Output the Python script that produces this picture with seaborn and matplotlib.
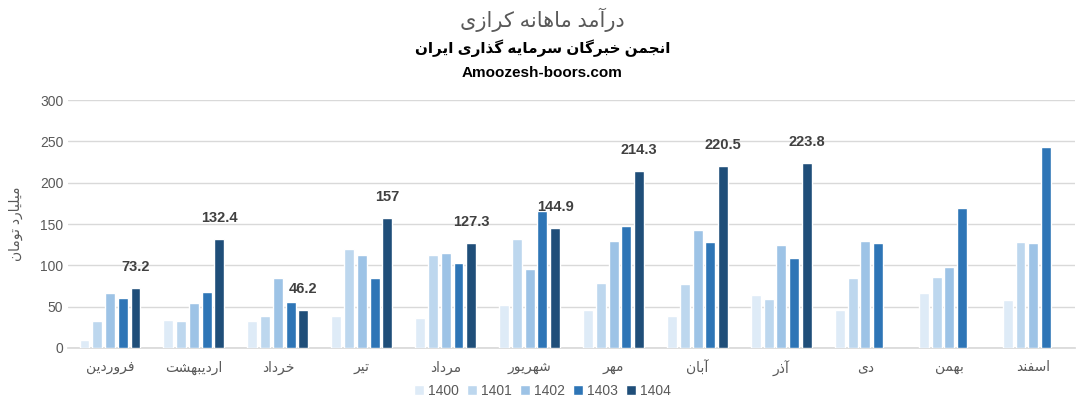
import numpy as np
import pandas as pd
import matplotlib
matplotlib.use("Agg")
import matplotlib.pyplot as plt
import seaborn as sns


months = ["فروردین", "اردیبهشت", "خرداد", "تیر", "مرداد", "شهریور",
          "مهر", "آبان", "آذر", "دی", "بهمن", "اسفند"]
years = ["1400", "1401", "1402", "1403", "1404"]

rev_1400 = [10, 34, 33, 39, 36, 52, 46, 39, 64, 46, 67, 58]
rev_1401 = [33, 33, 39, 120, 113, 132, 79, 78, 59, 85, 86, 128]
rev_1402 = [67, 55, 85, 113, 115, 96, 130, 143, 125, 130, 98, 127]
rev_1403 = [60, 68, 56, 85, 103, 166, 148, 128, 109, 127, 170, 243]
rev_1404 = [73.2, 132.4, 46.2, 157, 127.3, 144.9, 214.3, 220.5, 223.8,
            np.nan, np.nan, np.nan]

title = "درآمد ماهانه کرازی"
subtitle = "انجمن خبرگان سرمایه گذاری ایران"
site = "Amoozesh-boors.com"
ylabel = "میلیارد تومان"

colors = ["#DEEBF7", "#BDD7EE", "#9DC3E6", "#2E75B6", "#1F4E79"]

# presentation forms: isolated, final, initial, medial (None = right-joining only)
FORMS = {
    "ا": ("\uFE8D", "\uFE8E", None, None),
    "آ": ("\uFE81", "\uFE82", None, None),
    "د": ("\uFEA9", "\uFEAA", None, None),
    "ذ": ("\uFEAB", "\uFEAC", None, None),
    "ر": ("\uFEAD", "\uFEAE", None, None),
    "ز": ("\uFEAF", "\uFEB0", None, None),
    "و": ("\uFEED", "\uFEEE", None, None),
    "ب": ("\uFE8F", "\uFE90", "\uFE91", "\uFE92"),
    "پ": ("\uFB56", "\uFB57", "\uFB58", "\uFB59"),
    "ت": ("\uFE95", "\uFE96", "\uFE97", "\uFE98"),
    "ج": ("\uFE9D", "\uFE9E", "\uFE9F", "\uFEA0"),
    "خ": ("\uFEA5", "\uFEA6", "\uFEA7", "\uFEA8"),
    "س": ("\uFEB1", "\uFEB2", "\uFEB3", "\uFEB4"),
    "ش": ("\uFEB5", "\uFEB6", "\uFEB7", "\uFEB8"),
    "ف": ("\uFED1", "\uFED2", "\uFED3", "\uFED4"),
    "ک": ("\uFB8E", "\uFB8F", "\uFB90", "\uFB91"),
    "گ": ("\uFB92", "\uFB93", "\uFB94", "\uFB95"),
    "ل": ("\uFEDD", "\uFEDE", "\uFEDF", "\uFEE0"),
    "م": ("\uFEE1", "\uFEE2", "\uFEE3", "\uFEE4"),
    "ن": ("\uFEE5", "\uFEE6", "\uFEE7", "\uFEE8"),
    "ه": ("\uFEE9", "\uFEEA", "\uFEEB", "\uFEEC"),
    "ی": ("\uFBFC", "\uFBFD", "\uFBFE", "\uFBFF"),
}


def shape(text):
    # join letters and put them in visual (left to right) order
    out = []
    for i, c in enumerate(text):
        if c not in FORMS:
            out.append(c)
            continue
        prev = text[i - 1] if i > 0 else None
        nxt = text[i + 1] if i + 1 < len(text) else None
        join_prev = prev in FORMS and FORMS[prev][2] is not None
        join_next = nxt in FORMS and FORMS[c][2] is not None
        iso, fin, ini, med = FORMS[c]
        if join_prev and join_next:
            out.append(med)
        elif join_prev:
            out.append(fin)
        elif join_next:
            out.append(ini)
        else:
            out.append(iso)
    return "".join(reversed(out))


sns.set_theme(style="white")
plt.rcParams['font.family'] = ['Liberation Sans', 'DejaVu Sans']

series = [rev_1400, rev_1401, rev_1402, rev_1403, rev_1404]
df = pd.DataFrame({
    'month': np.tile(months, len(years)),
    'year': np.repeat(years, len(months)),
    'value': np.concatenate(series),
})

fig = plt.figure(figsize=(10.85, 4.07), dpi=100)
ax = fig.add_axes([0.0627, 0.145, 0.9283, 0.609])

sns.barplot(data=df, x='month', y='value', hue='year', order=months,
            hue_order=years, palette=colors, saturation=1, width=0.76,
            gap=0.22, errorbar=None, ax=ax, legend=True, zorder=3)

ax.set_ylim(0, 300)
ax.set_yticks(range(0, 301, 50))
ax.grid(axis='y', color='#D9D9D9', linewidth=1, zorder=0)
ax.set_axisbelow(True)
for s in ['top', 'right', 'left']:
    ax.spines[s].set_visible(False)
ax.spines['bottom'].set_color('#D9D9D9')
ax.tick_params(axis='both', length=0, colors='#595959', labelsize=10)
ax.tick_params(axis='x', pad=9)
ax.set_xticks(range(len(months)))
ax.set_xticklabels([shape(m) for m in months])
ax.set_xlabel('')
ax.set_ylabel(shape(ylabel), color='#595959', fontsize=10, labelpad=12)

ax.bar_label(ax.containers[-1], fmt=lambda v: f"{v:g}", padding=10,
             fontsize=10.5, fontweight='bold', color='#404040')

handles, labels = ax.get_legend_handles_labels()
ax.get_legend().remove()
fig.legend(handles, labels, loc='center', bbox_to_anchor=(0.5, 0.039),
           ncol=5, frameon=False, fontsize=10, labelcolor='#595959',
           handlelength=0.7, handleheight=0.7, handletextpad=0.3,
           columnspacing=0.6)

fig.text(0.5, 1 - 20 / 407, shape(title), ha='center', va='center',
         fontsize=15, color='#595959')
fig.text(0.5, 1 - 48 / 407, shape(subtitle), ha='center', va='center',
         fontsize=11, fontweight='bold', color='black')
fig.text(0.5, 1 - 73 / 407, site, ha='center', va='center',
         fontsize=11, fontweight='bold', color='black')

fig.savefig("out.png", dpi=100)
